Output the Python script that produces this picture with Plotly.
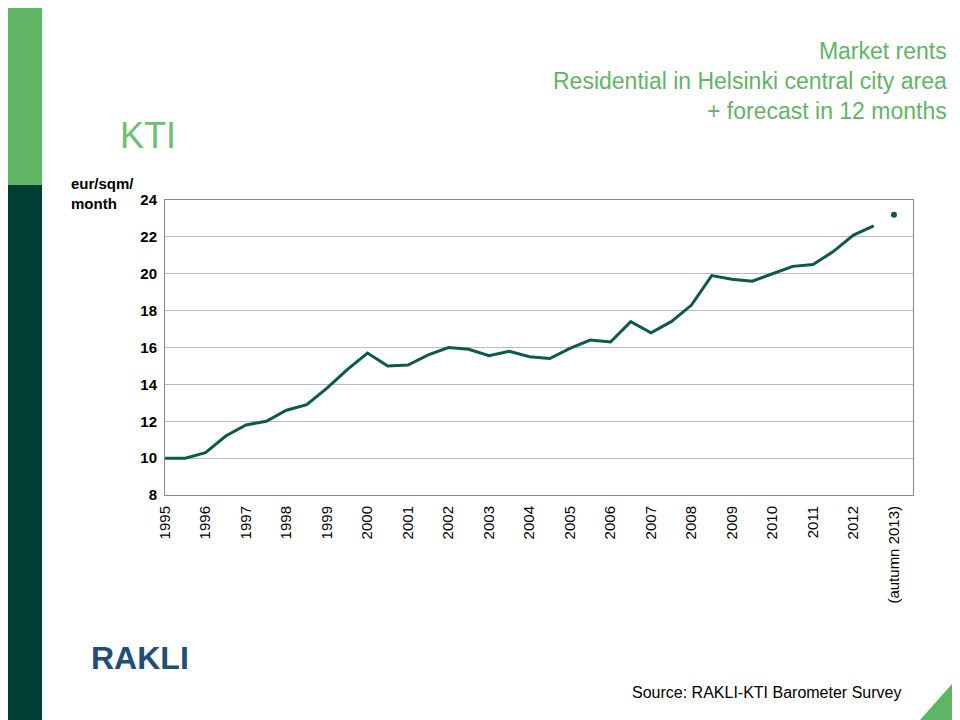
import plotly.graph_objects as go

# half-year observations, spring 1995 .. autumn 2012
periods = [1995 + 0.5 * i for i in range(36)]
rents = [10.0, 10.0, 10.3, 11.2, 11.8, 12.0, 12.6, 12.9, 13.8, 14.8,
         15.7, 15.0, 15.05, 15.6, 16.0, 15.9, 15.55, 15.8, 15.5, 15.4,
         15.95, 16.4, 16.3, 17.4, 16.8, 17.4, 18.3, 19.9, 19.7, 19.6,
         20.0, 20.4, 20.5, 21.2, 22.1, 22.6]
forecast_x = [2013]
forecast_y = [23.2]

tick_vals = list(range(1995, 2014))
tick_text = [str(y) for y in range(1995, 2013)] + ['(autumn 2013)']
y_ticks = [8, 10, 12, 14, 16, 18, 20, 22, 24]

line_color = '#0b5a4c'
green = '#5fb563'

L, R, T, B = 157, 55, 192, 233
PW, PH = 960 - L - R, 720 - T - B


def px(x):
  return (x - L) / PW


def py(y):
  return 1 - (y - T) / PH


fig = go.Figure()
fig.add_trace(go.Scatter(x=periods, y=rents, mode='lines',
                         line=dict(color=line_color, width=3)))
fig.add_trace(go.Scatter(x=forecast_x, y=forecast_y, mode='markers',
                         marker=dict(color=line_color, size=6)))

fig.update_layout(
  width=960, height=720,
  paper_bgcolor='white', plot_bgcolor='white',
  showlegend=False,
  margin=dict(l=L, r=R, t=T, b=B),
  font=dict(family='Liberation Sans, Arial', color='black'),
  xaxis=dict(range=[1995, 2013.47], tickvals=tick_vals, ticktext=tick_text,
             tickangle=-90, showgrid=False, zeroline=False,
             tickfont=dict(size=15), ticks='outside', ticklen=4, tickcolor='white',
             showline=True, linecolor='#888', mirror=True),
  yaxis=dict(range=[8, 24], tickvals=y_ticks, showgrid=True,
             gridcolor='#bbbbbb', gridwidth=1, zeroline=False,
             tickfont=dict(size=15, weight='bold'), ticks='outside', ticklen=4,
             tickcolor='white',
             showline=True, linecolor='#888', mirror=True),
)

shapes = [
  dict(type='rect', xref='paper', yref='paper', x0=px(0), x1=px(34),
       y0=py(177), y1=py(-10), fillcolor=green, line_width=0, layer='below'),
  dict(type='rect', xref='paper', yref='paper', x0=px(0), x1=px(34),
       y0=py(720), y1=py(177), fillcolor='#003d35', line_width=0, layer='below'),
  dict(type='path', xref='paper', yref='paper',
       path='M %f %f L %f %f L %f %f Z' % (px(912), py(712), px(960), py(712),
                                            px(960), py(658)),
       fillcolor=green, line_width=0),
]
fig.update_layout(shapes=shapes)

annotations = [
  dict(text='Market rents<br>Residential in Helsinki central city area<br>+ forecast in 12 months',
       xref='paper', yref='paper', x=px(941), y=py(28), xanchor='right', yanchor='top',
       align='right', showarrow=False, font=dict(size=23, color=green)),
  dict(text='<b>eur/sqm/<br>month</b>', xref='paper', yref='paper',
       x=px(61), y=py(165), xanchor='left', yanchor='top', align='left',
       showarrow=False, font=dict(size=15)),
  dict(text='KTI', xref='paper', yref='paper', x=px(140), y=py(150),
       xanchor='center', yanchor='bottom', showarrow=False,
       font=dict(size=36, color='#6cc070')),
  dict(text='<b>RAKLI</b>', xref='paper', yref='paper', x=px(132), y=py(670),
       xanchor='center', yanchor='bottom', showarrow=False,
       font=dict(size=32, color='#1f4e79')),
  dict(text='Source: RAKLI-KTI Barometer Survey', xref='paper', yref='paper',
       x=px(895), y=py(695), xanchor='right', yanchor='bottom', showarrow=False,
       font=dict(size=16)),
]
fig.update_layout(annotations=annotations)

fig.write_html("out.html")
